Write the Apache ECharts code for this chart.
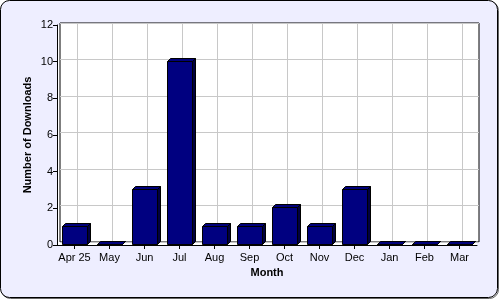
<!DOCTYPE html>
<html>
<head>
<meta charset="utf-8">
<script src="https://cdn.jsdelivr.net/npm/echarts@6/dist/echarts.min.js"></script>
<style>
html,body{margin:0;padding:0;background:#fff;}
#c{width:500px;height:300px;}
</style>
</head>
<body>
<div id="c"></div>
<script>
const categories = ['Apr 25','May','Jun','Jul','Aug','Sep','Oct','Nov','Dec','Jan','Feb','Mar'];
const downloads = [1,0,3,10,1,1,2,1,3,0,0,0];
const yMin = 0, yMax = 12, yStep = 2;

const D = 3; // 3D depth in px
const FONT = '"Liberation Sans", Arial, sans-serif';
const chart = echarts.init(document.getElementById('c'), null, {renderer:'canvas'});

chart.setOption({
  backgroundColor: 'transparent',
  animation: false,
  graphic: [
    {type:'rect', z:-20, shape:{x:1.5,y:1.5,width:497,height:297,r:9}, style:{fill:'none',stroke:'#666',lineWidth:1}, silent:true},
    {type:'rect', z:-19, shape:{x:0.5,y:0.5,width:497,height:297,r:9}, style:{fill:'#eeeeff',stroke:'#000',lineWidth:1}, silent:true}
  ],
  grid: [
    {left:57, right:23, top:25, bottom:55, show:true, backgroundColor:'#fff', borderWidth:0, containLabel:false},
    {left:57+D, right:23-D+1, top:25-D+1, bottom:55+D, show:true, backgroundColor:'#fff', borderColor:'#000', borderWidth:1, containLabel:false}
  ],
  xAxis: [
    {type:'category', gridIndex:0, data:categories,
     axisLine:{show:true, lineStyle:{color:'#000', width:1}},
     axisTick:{show:true, alignWithLabel:true, length:4, lineStyle:{color:'#000'}},
     axisLabel:{color:'#000', fontSize:11, fontFamily:FONT, margin:7, interval:0},
     splitLine:{show:false},
     name:'Month', nameLocation:'middle', nameGap:22,
     nameTextStyle:{color:'#000', fontSize:11, fontWeight:'bold', fontFamily:FONT}},
    {type:'category', gridIndex:1, data:categories, show:false}
  ],
  yAxis: [
    {type:'value', gridIndex:0, min:yMin, max:yMax, interval:yStep,
     axisLine:{show:true, lineStyle:{color:'#000', width:1}},
     axisTick:{show:true, length:4, lineStyle:{color:'#000'}},
     axisLabel:{color:'#000', fontSize:11, fontFamily:FONT, margin:4},
     splitLine:{show:false},
     name:'Number of Downloads', nameLocation:'middle', nameGap:24, nameRotate:90, nameMoveOverlap:false,
     nameTextStyle:{color:'#000', fontSize:11, fontWeight:'bold', fontFamily:FONT}},
    {type:'value', gridIndex:1, min:yMin, max:yMax, interval:yStep,
     axisLine:{show:false}, axisTick:{show:false}, axisLabel:{show:false},
     splitLine:{show:true, lineStyle:{color:'#c8c8c8', width:1}}}
  ],
  series: [
    {
      type:'custom', xAxisIndex:1, yAxisIndex:1, z:1, silent:true,
      data: categories.map((c,i)=>[i]),
      renderItem:function(params, api){
        const i = api.value(0);
        const a = api.coord([i, yMin]);
        const b = api.coord([i, yMax]);
        return {type:'line', shape:{x1:Math.round(a[0])+0.5, y1:a[1], x2:Math.round(b[0])+0.5, y2:b[1]},
                style:{stroke:'#c8c8c8', lineWidth:1}};
      }
    },
    {
      type:'custom', xAxisIndex:0, yAxisIndex:0, z:5, silent:true,
      data: downloads.map((v,i)=>[i,v]),
      renderItem:function(params, api){
        const i = api.value(0), v = api.value(1);
        const p0 = api.coord([i, 0]);
        const p1 = api.coord([i, v]);
        const w = 25;
        const x0 = Math.round(p0[0] - w/2) + 0.5, x1 = x0 + w;
        const yb = Math.round(p0[1]) - 0.5, yt = Math.round(p1[1]) - 0.5;
        const st = {stroke:'#000', lineWidth:1};
        return {type:'group', children:[
          {type:'polygon', shape:{points:[[x1,yt],[x1+D,yt-D],[x1+D,yb-D],[x1,yb]]}, style:Object.assign({fill:'#000040'},st)},
          {type:'polygon', shape:{points:[[x0,yt],[x0+D,yt-D],[x1+D,yt-D],[x1,yt]]}, style:Object.assign({fill:'#00007a'},st)},
          {type:'rect', shape:{x:x0, y:yt, width:w, height:yb-yt}, style:Object.assign({fill:'#000080'},st)}
        ]};
      }
    }
  ]
});
</script>
</body>
</html>
